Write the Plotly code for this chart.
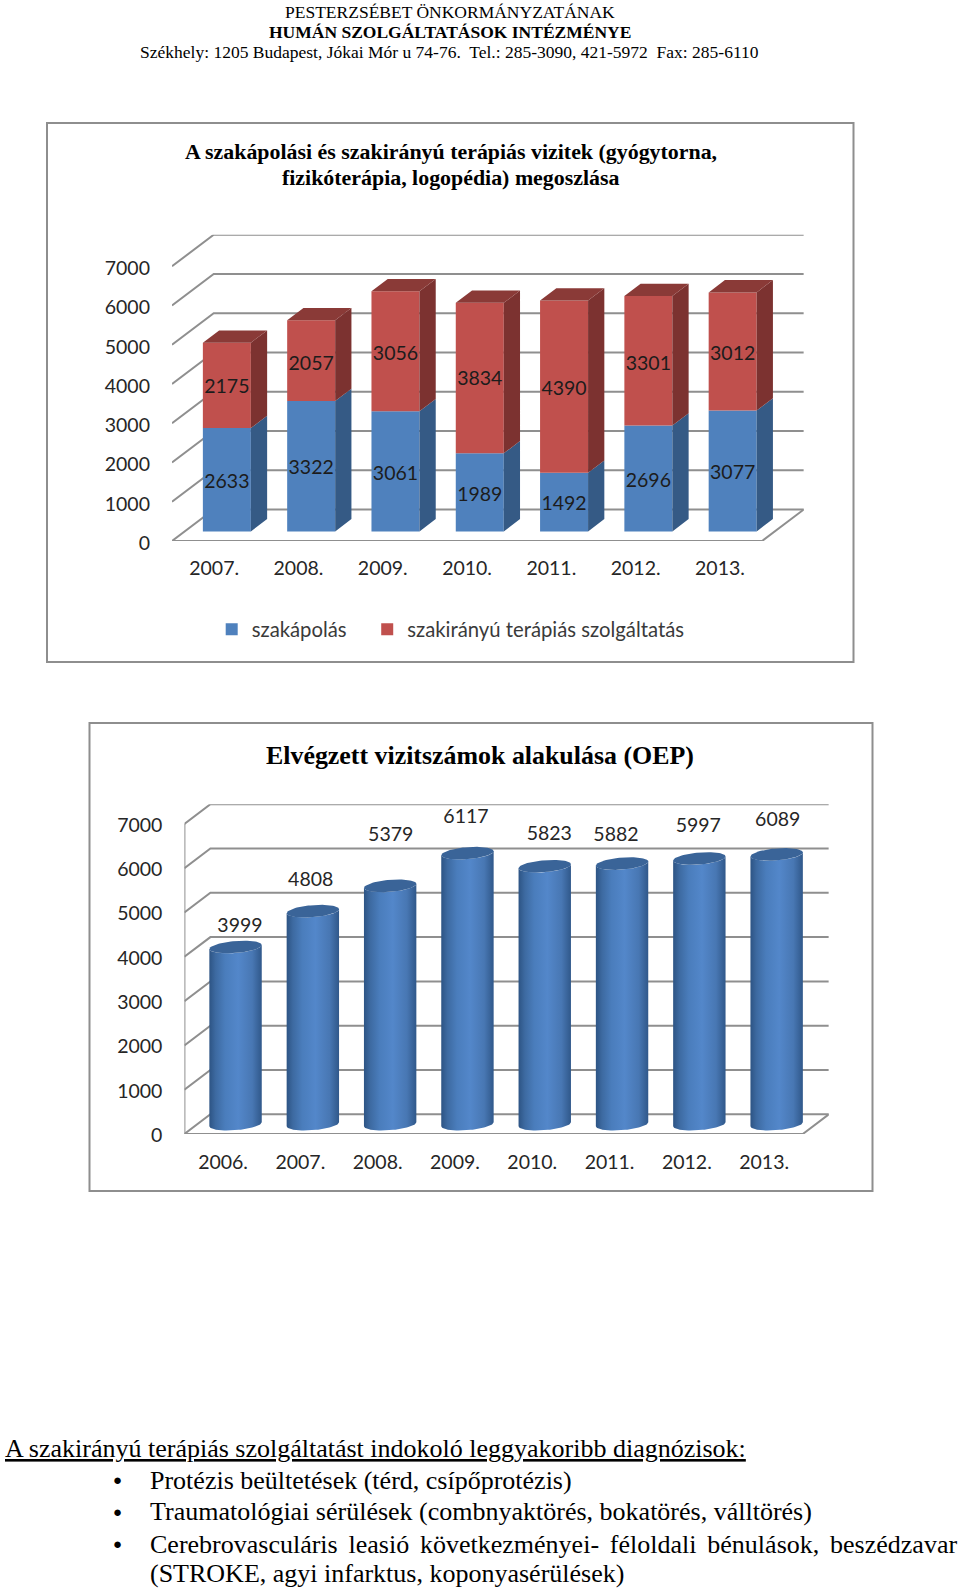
import numpy as np
import plotly.graph_objects as go

W, H = 960, 1590

# ---------- data ----------
years1 = ["2007.", "2008.", "2009.", "2010.", "2011.", "2012.", "2013."]
szakapolas = [2633, 3322, 3061, 1989, 1492, 2696, 3077]
terapia = [2175, 2057, 3056, 3834, 4390, 3301, 3012]
years2 = ["2006.", "2007.", "2008.", "2009.", "2010.", "2011.", "2012.", "2013."]
vizitek = [3999, 4808, 5379, 6117, 5823, 5882, 5997, 6089]
y_ticks = [0, 1000, 2000, 3000, 4000, 5000, 6000, 7000]

title1_lines = ["A szakápolási és szakirányú terápiás vizitek (gyógytorna,", "fizikóterápia, logopédia) megoszlása"]
title2 = "Elvégzett vizitszámok alakulása (OEP)"
header_lines = ["PESTERZSÉBET ÖNKORMÁNYZATÁNAK", "<b>HUMÁN SZOLGÁLTATÁSOK INTÉZMÉNYE</b>",
                "Székhely: 1205 Budapest, Jókai Mór u 74-76.  Tel.: 285-3090, 421-5972  Fax: 285-6110"]
footer_title = "<u>A szakirányú terápiás szolgáltatást indokoló leggyakoribb diagnózisok:</u>"
footer_items = ["Protézis beültetések (térd, csípőprotézis)",
                "Traumatológiai sérülések (combnyaktörés, bokatörés, válltörés)",
                "Cerebrovasculáris\u00a0\u2006leasió\u00a0\u2006következményei-\u00a0\u2006féloldali\u00a0\u2006bénulások,\u00a0\u2006beszédzavar",
                "(STROKE, agyi infarktus, koponyasérülések)"]

# label heights (page pixels)
lbl1_low_px = [483, 469.5, 475.5, 496.2, 505.5, 482, 473.9]
lbl1_high_px = [388.5, 365.5, 355.5, 380.5, 390.5, 365.5, 355.5]
lbl2_x_px = [240, 310.7, 390.7, 466, 549.3, 616, 698.3, 777.7]
lbl2_y_px = [927.5, 881.5, 836.5, 818.5, 835.2, 836.5, 826.8, 820.8]

# ---------- geometry (page pixels) ----------
C1 = dict(x0=172.0, pitch=84.3, y0=541.0, ppu=0.03925, dx=41.7, dy=31.5)
C2 = dict(x0=184.4, pitch=77.3, y0=1134.0, ppu=0.0443, dx=26.0, dy=19.7)
TICK = "Lato"; SERIF = "Liberation Serif"
BLUE, BLUE_S, RED, RED_S, RED_T = "#4f81bd", "#355a85", "#c0504d", "#7c3230", "#8a3a37"
GRID = "#8f8f8f"
TXT = "#262626"
TS = 19.5

fig = go.Figure()

def setup_axes(c, n, ticktext, xname, yname, anchor_x, anchor_y, standoff_x, yshift):
    ddx = c["dx"] / c["pitch"]
    ddy = c["dy"] / c["ppu"]
    xr = [-0.5, n - 0.5 + ddx]
    yr = [0, 7000 + ddy]
    x_end = c["x0"] + n * c["pitch"] + c["dx"]
    y_end = c["y0"] - yr[1] * c["ppu"]
    fig.layout[xname] = dict(domain=[c["x0"] / W, x_end / W], range=xr, tickmode="array", anchor=anchor_y,
                             tickvals=list(range(n)), ticktext=ticktext, showgrid=False, zeroline=False,
                             showline=False, ticks="", ticklabelstandoff=standoff_x,
                             tickfont=dict(family=TICK, size=TS, color=TXT), fixedrange=True)
    fig.layout[yname] = dict(domain=[1 - c["y0"] / H, 1 - y_end / H], range=yr, tickmode="array", anchor=anchor_x,
                             tickvals=y_ticks, showgrid=False, zeroline=False, showline=False, ticks="",
                             ticklabelstandoff=21, ticklabelshift=yshift,
                             tickfont=dict(family=TICK, size=TS, color=TXT), fixedrange=True)
    return ddx, ddy

def grid(c, n, ddx, ddy, xref, yref, front_axis):
    L = -0.5; R = n - 0.5
    def path(pts):
        return "M" + " L".join(f"{a},{b}" for a, b in pts)
    line = dict(color=GRID, width=2)
    for v in y_ticks:
        fig.add_shape(type="path", path=path([(L, v), (L + ddx, v + ddy), (R + ddx, v + ddy)]),
                      xref=xref, yref=yref, line=line, layer="below")
    fig.add_shape(type="path", path=path([(L, 0), (R, 0), (R + ddx, ddy)]), xref=xref, yref=yref, line=line, layer="below")
    if front_axis:
        fig.add_shape(type="path", path=path([(L, 0), (L, 7000)]), xref=xref, yref=yref, line=line, layer="below")

ddx1, ddy1 = setup_axes(C1, len(years1), years1, "xaxis", "yaxis", "x", "y", 13, 2)
ddx2, ddy2 = setup_axes(C2, len(years2), years2, "xaxis2", "yaxis2", "x2", "y2", 14, 1)
grid(C1, len(years1), ddx1, ddy1, "x", "y", False)
grid(C2, len(years2), ddx2, ddy2, "x2", "y2", True)

# ---------- chart 1: stacked boxes ----------
z0, z1 = 0.305, 0.695
w1 = 48 / C1["pitch"]
shift = z0 * ddx1
lift0, lift1 = z0 * ddy1, z1 * ddy1
dep_x = (z1 - z0) * ddx1
cats = np.arange(len(years1))
low = np.array(szakapolas, float)
high = np.array(terapia, float)

fig.add_trace(go.Bar(x=cats + shift, y=low, base=lift0, width=w1, marker=dict(color=BLUE, line_width=0),
                     name="szakápolás\u00a0\u00a0\u00a0", xaxis="x", yaxis="y", hoverinfo="skip"))
fig.add_trace(go.Bar(x=cats + shift, y=high, base=lift0 + low, width=w1, marker=dict(color=RED, line_width=0),
                     name="szakirányú terápiás szolgáltatás", xaxis="x", yaxis="y", hoverinfo="skip"))

def side_polys(bot, top):
    xs, ys = [], []
    for i in cats:
        xr = i + shift + w1 / 2
        xs += [xr, xr + dep_x, xr + dep_x, xr, xr, None]
        ys += [bot[i] + lift0, bot[i] + lift1, top[i] + lift1, top[i] + lift0, bot[i] + lift0, None]
    return xs, ys

def top_polys(top):
    xs, ys = [], []
    for i in cats:
        xl = i + shift - w1 / 2
        xr = xl + w1
        xs += [xl, xl + dep_x, xr + dep_x, xr, xl, None]
        ys += [top[i] + lift0, top[i] + lift1, top[i] + lift1, top[i] + lift0, top[i] + lift0, None]
    return xs, ys

for (xs, ys), col in [(side_polys(np.zeros(len(low)), low), BLUE_S),
                      (side_polys(low, low + high), RED_S),
                      (top_polys(low + high), RED_T)]:
    fig.add_trace(go.Scatter(x=xs, y=ys, mode="lines", fill="toself", fillcolor=col, line=dict(width=0),
                             showlegend=False, hoverinfo="skip", xaxis="x", yaxis="y"))

def y_from_px(c, p):
    return (c["y0"] - np.array(p, float)) / c["ppu"]

for arr, vals in [(lbl1_low_px, szakapolas), (lbl1_high_px, terapia)]:
    fig.add_trace(go.Scatter(x=cats + shift, y=y_from_px(C1, arr), mode="text", text=[str(v) for v in vals],
                             textposition="middle center", textfont=dict(family=TICK, size=TS, color="#1c1c1c"),
                             showlegend=False, hoverinfo="skip", xaxis="x", yaxis="y", cliponaxis=False))

# ---------- chart 2: cylinders ----------
a_px, b_px, tilt_px = 26.2, 6.0, 2.0
z2 = 0.5
lift2 = z2 * ddy2
shift2 = 12.5 / C2["pitch"]
a = a_px / C2["pitch"]
b = b_px / C2["ppu"]
tilt = tilt_px / C2["ppu"]
grad = [[0, "#2d5484"], [0.12, "#3d6aa1"], [0.3, "#4a7dbc"], [0.55, "#5387ca"], [0.82, "#4877b3"], [1, "#30588a"]]
t_front = np.linspace(np.pi, 2 * np.pi, 40)
t_full = np.linspace(0, 2 * np.pi, 80)

for i, v in enumerate(vizitek):
    cx = i + shift2
    xa = cx + a * np.cos(t_front)
    yoff = tilt * np.cos(t_front) + b * np.sin(t_front)
    xs = np.concatenate([xa, xa[::-1], xa[:1]])
    ys = np.concatenate([lift2 + yoff, lift2 + v + yoff[::-1], [lift2 + yoff[0]]])
    fig.add_trace(go.Scatter(x=xs, y=ys, mode="lines", fill="toself", fillgradient=dict(type="horizontal", colorscale=grad),
                             line=dict(width=0), showlegend=False, hoverinfo="skip", xaxis="x2", yaxis="y2"))
    fig.add_trace(go.Scatter(x=cx + a * np.cos(t_full), y=lift2 + v + tilt * np.cos(t_full) + b * np.sin(t_full),
                             mode="lines", fill="toself", fillcolor="#3a6498", line=dict(width=0),
                             showlegend=False, hoverinfo="skip", xaxis="x2", yaxis="y2"))

fig.add_trace(go.Scatter(x=(np.array(lbl2_x_px) - C2["x0"]) / C2["pitch"] - 0.5, y=y_from_px(C2, lbl2_y_px), mode="text",
                         text=[str(v) for v in vizitek], textposition="middle center",
                         textfont=dict(family=TICK, size=TS, color=TXT), showlegend=False, hoverinfo="skip",
                         xaxis="x2", yaxis="y2", cliponaxis=False))

# ---------- frames ----------
for x0, y0, x1, y1 in [(47, 123, 853.5, 662), (89.5, 723, 872.5, 1191)]:
    fig.add_shape(type="rect", xref="paper", yref="paper", x0=x0 / W, x1=x1 / W, y0=1 - y0 / H, y1=1 - y1 / H,
                  line=dict(color="#8e8e8e", width=2), layer="below")

# ---------- texts ----------
def note(text, x, y, size, anchor="center", family=SERIF, color="#000"):
    fig.add_annotation(text=text, x=x / W, y=1 - y / H, xref="paper", yref="paper", showarrow=False,
                       xanchor=anchor, yanchor="middle", align=anchor,
                       font=dict(family=family, size=size, color=color), borderpad=0)

note(header_lines[0], 449.6, 12, 17.5)
note(header_lines[1], 449.6, 32, 17.5)
note(header_lines[2], 449.6, 52, 17.5)
note(f"<b>{title1_lines[0]}</b>", 451, 152, 21.9)
note(f"<b>{title1_lines[1]}</b>", 451, 177.5, 21.9)
note(f"<b>{title2}</b>", 480, 755, 25.9)
note(footer_title, 4, 1448, 26, "left")
for t, y in zip(footer_items, [1480, 1511.5, 1544, 1573]):
    note(t, 149, y, 26, "left")
for y in [1480, 1511.5, 1544]:
    note("\u25cf", 117.6, y, 15)

fig.update_layout(width=W, height=H, margin=dict(l=0, r=0, t=0, b=0, autoexpand=False), paper_bgcolor="white",
                  plot_bgcolor="rgba(0,0,0,0)", barmode="overlay", showlegend=True,
                  legend=dict(orientation="h", x=211.7 / W, y=1 - 629.5 / H, xanchor="left", yanchor="middle",
                              font=dict(family=TICK, size=20.3, color="#3a3a3a"),
                              bgcolor="rgba(0,0,0,0)", traceorder="normal"))

fig.write_html("out.html", config={"displayModeBar": False},
               post_script="document.body.style.margin='0';document.body.style.overflow='hidden';")
